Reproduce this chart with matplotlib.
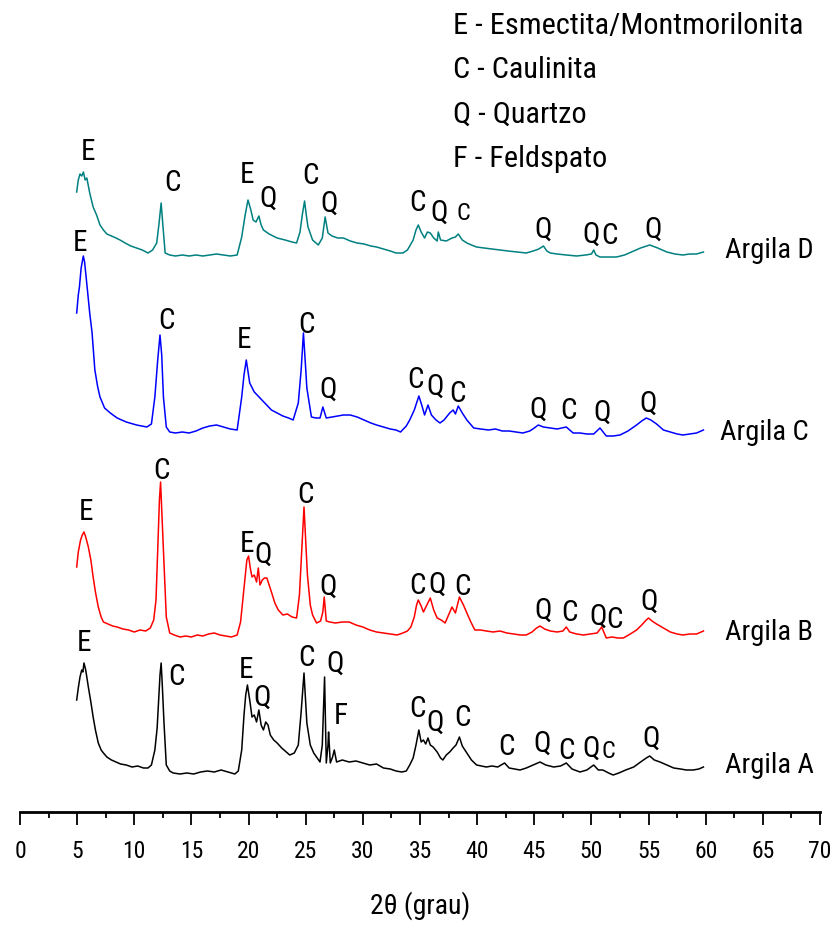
import matplotlib
matplotlib.use("Agg")
import matplotlib.pyplot as plt
from matplotlib import font_manager
from matplotlib.ticker import MultipleLocator

# ---------------- data (2theta in degrees, intensity in arbitrary units) ----------------
tt_A = [4.96, 5.1, 5.25, 5.4, 5.5, 5.6, 5.75, 5.98, 6.2, 6.4, 6.6, 6.85, 7.1, 7.3, 7.6, 8.0, 8.4, 8.8, 9.3, 9.8,
        10.3, 10.8, 11.2, 11.5, 11.8, 12.0, 12.1, 12.25, 12.35, 12.45, 12.6, 12.8, 13.1, 13.4, 14.0, 14.6, 15.2,
        15.8, 16.4, 17.0, 17.6, 18.2, 18.8, 19.1, 19.4, 19.6, 19.75, 19.9, 20.1, 20.3, 20.5, 20.7, 20.9, 21.1,
        21.3, 21.5, 21.7, 21.9, 22.2, 22.5, 22.9, 23.3, 23.6, 24.0, 24.35, 24.6, 24.85, 25.1, 25.4, 25.7, 26.0,
        26.25, 26.45, 26.65, 26.8, 26.95, 27.0, 27.15, 27.35, 27.5, 27.7, 28.2, 28.8, 29.4, 30.0, 30.6, 31.2,
        31.8, 32.4, 32.9, 33.4, 33.8, 34.1, 34.4, 34.65, 34.9, 35.1, 35.3, 35.5, 35.7, 35.9, 36.15, 36.5, 36.8,
        37.0, 37.3, 37.6, 37.9, 38.15, 38.45, 38.7, 39.1, 39.5, 39.95, 40.4, 40.8, 41.3, 41.8, 42.4, 42.8, 43.3,
        43.75, 44.3, 44.9, 45.5, 46.0, 46.7, 47.3, 47.8, 48.3, 49.0, 49.6, 50.2, 50.6, 51.0, 51.5, 51.9, 52.4,
        53.0, 53.7, 54.3, 54.8, 55.1, 55.5, 56.0, 56.6, 57.2, 57.8, 58.3, 58.9, 59.4, 59.8]
int_A = [80, 92, 103, 110, 108, 117, 110, 93, 78, 63, 50, 37, 30, 27, 23, 20, 18, 16, 15, 13,
         14, 12, 12, 15, 30, 52, 73, 105, 117, 95, 57, 15, 9, 7, 6, 7, 6,
         8, 9, 8, 10, 8, 6, 9, 30, 65, 85, 95, 80, 63, 65, 58, 70, 55,
         50, 58, 55, 45, 40, 37, 32, 28, 25, 27, 35, 68, 107, 57, 35, 27, 22,
         18, 35, 103, 17, 35, 48, 17, 23, 30, 18, 20, 18, 19, 17, 15, 16,
         12, 11, 9, 8, 9, 15, 22, 35, 50, 38, 40, 36, 42, 35, 33, 28, 22,
         20, 25, 28, 32, 35, 43, 34, 27, 20, 15, 14, 13, 14, 13, 17, 12, 11,
         10, 12, 15, 18, 15, 13, 14, 17, 11, 8, 10, 15, 10, 10, 7, 5, 7,
         10, 13, 18, 22, 24, 20, 18, 15, 12, 11, 10, 10, 11, 13]

tt_B = [4.96, 5.1, 5.3, 5.45, 5.6, 5.75, 5.98, 6.2, 6.4, 6.6, 6.85, 7.1, 7.3, 7.7, 8.1, 8.5, 9.0, 9.5, 10.0, 10.5,
        11.0, 11.4, 11.7, 11.9, 12.1, 12.2, 12.3, 12.4, 12.55, 12.8, 13.1, 13.5, 14.0, 14.5, 15.0, 15.5, 16.0,
        16.5, 17.0, 17.5, 18.0, 18.5, 19.0, 19.3, 19.5, 19.7, 19.85, 20.0, 20.15, 20.3, 20.5, 20.7, 20.85, 21.0,
        21.2, 21.4, 21.6, 21.8, 22.0, 22.3, 22.6, 23.0, 23.4, 23.8, 24.2, 24.45, 24.65, 24.85, 25.0, 25.15, 25.4,
        25.6, 25.95, 26.3, 26.5, 26.62, 26.8, 27.1, 27.6, 28.2, 28.8, 29.4, 30.0, 30.6, 31.2, 31.8, 32.4, 33.0,
        33.5, 33.9, 34.2, 34.5, 34.7, 34.85, 35.1, 35.3, 35.6, 35.9, 36.2, 36.5, 36.85, 37.2, 37.5, 37.8, 38.1,
        38.45, 38.8, 39.1, 39.45, 39.8, 40.3, 40.8, 41.4, 42.0, 42.6, 43.2, 43.8, 44.3, 44.8, 45.2, 45.5, 45.9,
        46.4, 47.0, 47.5, 47.8, 48.1, 48.7, 49.3, 49.9, 50.5, 50.9, 51.3, 51.8, 52.3, 52.8, 53.4, 53.95, 54.4,
        54.8, 55.0, 55.3, 55.7, 56.3, 56.9, 57.5, 58.0, 58.6, 59.2, 59.8]
int_B = [73, 88, 100, 105, 108, 103, 93, 80, 63, 48, 33, 23, 18, 16, 14, 13, 11, 10, 8, 10,
         9, 12, 20, 40, 107, 140, 158, 130, 90, 23, 7, 5, 3, 4, 3, 5, 4,
         6, 7, 5, 4, 3, 5, 18, 40, 63, 80, 84, 72, 63, 65, 58, 72, 55,
         60, 62, 62, 55, 48, 37, 30, 25, 26, 23, 22, 45, 90, 133, 100, 65, 35,
         25, 17, 19, 28, 43, 19, 18, 17, 18, 18, 15, 13, 10, 8, 7, 6, 5,
         7, 9, 13, 23, 35, 40, 34, 28, 35, 42, 30, 22, 20, 17, 25, 33, 27,
         43, 35, 27, 18, 10, 10, 9, 8, 9, 7, 6, 5, 5, 8, 12, 14, 11,
         9, 8, 9, 13, 8, 6, 5, 6, 7, 13, 2, 3, 2, 2, 6, 10, 15,
         20, 22, 19, 16, 12, 8, 6, 5, 6, 6, 9]

tt_C = [4.96, 5.1, 5.2, 5.35, 5.54, 5.65, 5.75, 5.9, 6.1, 6.3, 6.55, 6.8, 7.0, 7.4, 7.9, 8.5, 9.3, 10.2, 11.1, 11.5,
        11.8, 12.05, 12.25, 12.4, 12.55, 12.8, 13.1, 13.6, 14.2, 14.8, 15.4, 16.0, 16.6, 17.2, 17.8, 18.4, 19.0,
        19.4, 19.6, 19.8, 20.1, 20.5, 21.0, 21.5, 22.0, 22.5, 23.0, 23.5, 23.9, 24.35, 24.6, 24.8, 24.95, 25.1,
        25.5, 25.9, 26.25, 26.5, 26.8, 27.3, 27.8, 28.3, 28.9, 29.5, 30.1, 30.7, 31.2, 31.8, 32.4, 32.9, 33.3,
        33.8, 34.1, 34.5, 34.9, 35.15, 35.4, 35.7, 36.0, 36.4, 36.75, 37.1, 37.6, 37.9, 38.1, 38.35, 38.7, 39.1,
        39.7, 40.3, 41.0, 41.6, 42.2, 42.8, 43.4, 44.0, 44.6, 45.0, 45.35, 45.8, 46.4, 47.0, 47.8, 48.4, 49.0,
        49.6, 50.2, 50.75, 51.3, 51.9, 52.5, 53.2, 53.95, 54.4, 54.8, 55.2, 55.7, 56.3, 56.9, 57.5, 58.0, 58.6,
        59.2, 59.8]
int_C = [127, 145, 153, 172, 184, 178, 167, 150, 127, 108, 70, 53, 43, 32, 27, 22, 18, 15, 13, 16,
         43, 80, 105, 85, 43, 13, 8, 7, 8, 7, 9, 12, 14, 15, 13, 11, 10,
         43, 65, 80, 57, 48, 42, 36, 30, 27, 24, 22, 20, 37, 70, 107, 80, 52,
         23, 22, 22, 33, 22, 23, 24, 25, 25, 23, 20, 17, 15, 13, 11, 10, 8,
         14, 20, 30, 44, 35, 25, 35, 25, 20, 17, 20, 27, 30, 26, 34, 27, 20,
         12, 11, 10, 11, 9, 9, 8, 7, 9, 12, 15, 13, 12, 11, 13, 7, 7,
         6, 6, 12, 4, 4, 5, 9, 15, 19, 22, 20, 16, 10, 8, 6, 5, 6,
         7, 10]

tt_D = [4.96, 5.1, 5.25, 5.4, 5.55, 5.7, 5.85, 6.1, 6.4, 6.7, 7.0, 7.3, 7.6, 8.0, 8.4, 8.75, 9.2, 9.7, 10.2, 10.7,
        11.2, 11.6, 11.96, 12.15, 12.35, 12.5, 12.7, 13.1, 13.6, 14.2, 14.8, 15.4, 16.0, 16.6, 17.2, 17.8, 18.4,
        19.0, 19.4, 19.7, 19.95, 20.2, 20.4, 20.65, 20.9, 21.1, 21.3, 21.8, 22.5, 23.2, 23.8, 24.2, 24.5, 24.7,
        24.9, 25.05, 25.2, 25.6, 26.1, 26.45, 26.7, 26.95, 27.3, 27.8, 28.3, 28.9, 29.5, 30.1, 30.7, 31.2, 31.8,
        32.4, 32.9, 33.5, 33.9, 34.2, 34.4, 34.65, 34.85, 35.1, 35.4, 35.65, 35.9, 36.2, 36.5, 36.6, 36.8, 37.3,
        37.8, 38.1, 38.35, 38.7, 39.1, 39.5, 39.95, 40.6, 41.3, 42.0, 42.7, 43.5, 44.3, 44.9, 45.4, 45.8, 46.1,
        46.4, 47.0, 47.8, 48.7, 49.5, 50.0, 50.2, 50.4, 50.75, 51.5, 52.2, 52.9, 53.7, 54.3, 55.1, 55.8, 56.6,
        57.3, 58.0, 58.6, 59.2, 59.8]
int_D = [68, 80, 86, 84, 88, 80, 82, 67, 53, 45, 35, 30, 26, 24, 22, 20, 17, 14, 12, 10,
         7, 10, 17, 35, 57, 35, 7, 5, 4, 5, 4, 5, 4, 5, 6, 5, 4,
         5, 23, 45, 60, 50, 40, 38, 44, 35, 30, 26, 22, 20, 18, 17, 28, 45,
         59, 45, 33, 20, 15, 22, 43, 27, 24, 22, 22, 19, 17, 16, 14, 13, 11,
         9, 7, 7, 10, 16, 20, 30, 35, 28, 22, 28, 27, 22, 19, 28, 20, 19,
         22, 23, 26, 20, 17, 15, 13, 12, 11, 10, 9, 8, 7, 9, 11, 14, 9,
         7, 6, 5, 4, 5, 6, 10, 5, 3, 3, 3, 5, 9, 12, 15, 12, 8,
         6, 5, 6, 6, 8]

sample_names = ["Argila A", "Argila B", "Argila C", "Argila D"]
sample_colors = ["#000000", "#ff0000", "#0000ff", "#008080"]
sample_offsets = [32, 172, 372, 552]

# peak labels: letter, 2theta, height above the trace base
peaks_A = (["E", "C", "E", "Q", "C", "Q", "F", "C", "Q", "C", "C", "Q", "C", "Q", "c", "Q"],
           [5.6, 13.65, 19.78, 21.18, 25.03, 27.56, 28.09, 34.74, 36.31, 38.68, 42.61, 45.68, 47.86, 49.96, 51.5, 55.21],
           [137, 103, 110, 82, 122, 116, 64, 71, 57, 62, 33, 36, 29, 31, 28, 41])
peaks_B = (["E", "C", "E", "Q", "C", "Q", "C", "Q", "C", "Q", "C", "Q", "C", "Q"],
           [5.78, 12.34, 19.86, 21.26, 24.94, 26.95, 34.74, 36.49, 38.76, 45.76, 48.04, 50.6, 52.0, 55.04],
           [128, 169, 96, 85, 145, 53, 54, 55, 53, 29, 27, 23, 20, 38])
peaks_C = (["E", "C", "E", "C", "Q", "C", "Q", "C", "Q", "C", "Q", "Q"],
           [5.25, 12.78, 19.6, 25.1, 26.95, 34.6, 36.3, 38.24, 45.3, 48.0, 50.9, 54.95],
           [197, 119, 100, 115, 50, 60, 53, 46, 30, 29, 27, 36])
peaks_D = (["E", "C", "E", "Q", "C", "Q", "C", "Q", "c", "Q", "Q", "C", "Q"],
           [5.95, 13.3, 19.86, 21.7, 25.375, 27.04, 34.74, 36.66, 38.76, 45.76, 49.95, 51.55, 55.39],
           [108, 77, 85, 61, 84, 56, 57, 47, 46, 30, 25, 24, 30])
name_pos = ([61.7, 61.7, 61.25, 61.7], [15, 8, 8, 10])

legend_lines = ["E - Esmectita/Montmorilonita", "C - Caulinita", "Q - Quartzo", "F - Feldspato"]
x_ticks = [0, 5, 10, 15, 20, 25, 30, 35, 40, 45, 50, 55, 60, 65, 70]
x_label = "2\u03b8 (grau)"

# ---------------- fonts ----------------
names = sorted({f.name for f in font_manager.fontManager.ttflist})
narrow = None
for cand in ["Liberation Sans Narrow", "Arial Narrow", "Roboto Condensed", "Open Sans Condensed",
             "DejaVu Sans Condensed", "Noto Sans Condensed"]:
    if cand in names:
        narrow = cand
        break
if narrow is None:
    for n in names:
        if "Narrow" in n or "Condensed" in n:
            narrow = n
            break
if narrow is not None:
    FAM = [narrow, "DejaVu Sans"]
    S = dict(legend=21.8, peak=21, small=17.5, name=20.5, tick=17, xlabel=20)
else:
    FAM = ["Liberation Sans", "DejaVu Sans"]
    S = dict(legend=20, peak=20, small=16, name=19, tick=16.5, xlabel=19)
plt.rcParams["font.family"] = FAM

# ---------------- figure ----------------
W, H = 834, 930
fig = plt.figure(figsize=(W / 100, H / 100), dpi=100)
ax = fig.add_axes([20 / W, 118 / H, 800 / W, 812 / H])
ax.set_xlim(0, 70)
ax.set_ylim(0, 812)

traces = [(tt_A, int_A), (tt_B, int_B), (tt_C, int_C), (tt_D, int_D)]
peaks = [peaks_A, peaks_B, peaks_C, peaks_D]
for i, ((tt, it), (lets, px, ph)) in enumerate(zip(traces, peaks)):
    off = sample_offsets[i]
    ax.plot(tt, [v + off for v in it], color=sample_colors[i], lw=1.1)
    for L, x, h in zip(lets, px, ph):
        fs = S["peak"]
        if L == "c":
            L, fs = "C", S["small"]
        ax.text(x, h + off, L, ha="center", va="center", fontsize=fs, color="black")
    ax.text(name_pos[0][i], name_pos[1][i] + off, sample_names[i], ha="left", va="center",
            fontsize=S["name"], color="black")

for j, line in enumerate(legend_lines):
    fig.text(453 / W, 1 - (26 + 44.3 * j) / H, line, ha="left", va="center", fontsize=S["legend"])

for s in ["left", "right", "top"]:
    ax.spines[s].set_visible(False)
ax.spines["bottom"].set_linewidth(2.0)
ax.set_yticks([])
ax.set_xticks(x_ticks)
ax.xaxis.set_minor_locator(MultipleLocator(2.5))
ax.tick_params(axis="x", which="major", direction="out", length=9.5, width=1.3, pad=11,
               labelsize=S["tick"])
ax.tick_params(axis="x", which="minor", direction="out", length=4.5, width=1.3)
ax.set_xlabel(x_label, fontsize=S["xlabel"], labelpad=20)

fig.savefig("out.png", dpi=100, facecolor="white")
